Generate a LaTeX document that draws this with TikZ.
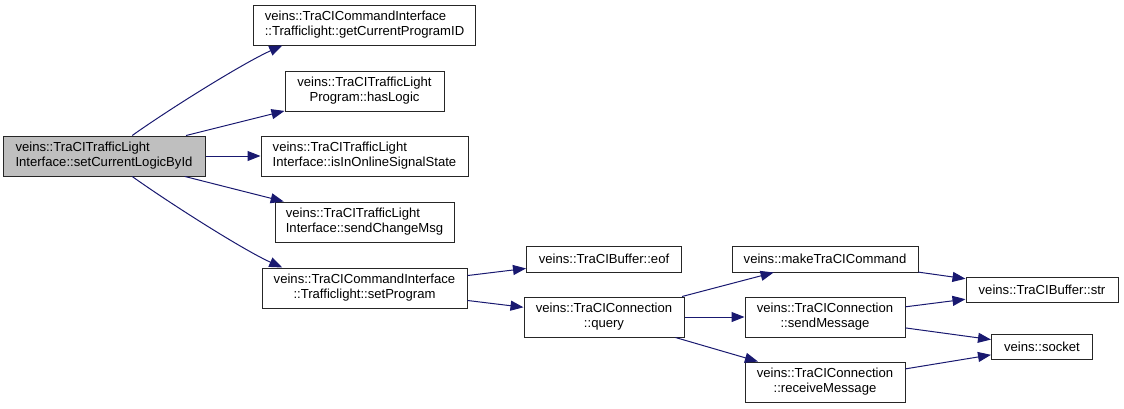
\documentclass[tikz,border=0pt]{standalone}
\usepackage{fontspec}
\setmainfont{Liberation Sans}
\usetikzlibrary{arrows.meta,positioning}
\definecolor{edgeblue}{HTML}{191970}
\definecolor{rootgray}{HTML}{BFBFBF}
\tikzset{
  fn/.style   ={draw=black!85, line width=1pt, fill=white, inner xsep=3pt,
                inner ysep=2pt, minimum height=40pt,
                font=\fontsize{13.1}{15}\selectfont},
  fnl/.style  ={fn, align=left},
  fnc/.style  ={fn, align=center},
  fone/.style ={fn, minimum height=26pt},
  froot/.style={fnl, fill=rootgray},
  call/.style ={-{Triangle[length=13pt,width=10pt]}, edgeblue, line width=1pt},
}

\begin{document}
\begin{tikzpicture}[x=1pt,y=1pt]
\useasboundingbox (0,0) rectangle (1124,-408);

\node[froot, minimum width=202pt] (setlogic) at (104,-156)
  {veins::TraCITrafficLight\\Interface::setCurrentLogicById};

% callees of setCurrentLogicById
\node[fnl, minimum width=207pt, right=55pt of setlogic] (online)
  {veins::TraCITrafficLight\\Interface::isInOnlineSignalState};
\node[fnc, minimum width=159pt, above=24pt of online] (haslogic)
  {veins::TraCITrafficLight\\Program::hasLogic};
\node[fnl, minimum width=222pt, above=25pt of haslogic] (getprog)
  {veins::TraCICommandInterface\\::Trafficlight::getCurrentProgramID};
\node[fnl, minimum width=179pt, below=25pt of online] (sendchange)
  {veins::TraCITrafficLight\\Interface::sendChangeMsg};
\node[fnc, minimum width=205pt, below=25pt of sendchange] (setprog)
  {veins::TraCICommandInterface\\::Trafficlight::setProgram};

% buffer and connection
\node[fnc, minimum width=160pt, right=56pt of setprog, yshift=-29pt] (query)
  {veins::TraCIConnection\\::query};
\node[fone, minimum width=155pt, above=24pt of query] (eof)
  {veins::TraCIBuffer::eof};
\node[fnc, minimum width=160pt, right=60pt of query] (sendmsg)
  {veins::TraCIConnection\\::sendMessage};
\node[fone, minimum width=186pt, above=24pt of sendmsg] (makecmd)
  {veins::makeTraCICommand};
\node[fnc, minimum width=160pt, below=24pt of sendmsg] (recvmsg)
  {veins::TraCIConnection\\::receiveMessage};
\node[fone, minimum width=152pt, minimum height=25pt,
      right=47pt of makecmd, yshift=-30.5pt] (bufstr)
  {veins::TraCIBuffer::str};
\node[fone, minimum width=101pt, minimum height=25pt, below=31pt of bufstr] (socket)
  {veins::socket};

\draw[call] (setlogic.36) .. controls +(35,25) and +(-40,-18) .. (getprog.194);
\draw[call] (setlogic) -- (haslogic);
\draw[call] (setlogic) -- (online);
\draw[call] (setlogic) -- (sendchange);
\draw[call] (setlogic.-36) .. controls +(35,-25) and +(-40,18) .. (setprog.166.5);

\draw[call] (setprog) -- (eof);
\draw[call] (setprog) -- (query);

\draw[call] (query) -- (makecmd);
\draw[call] (query) -- (sendmsg);
\draw[call] (query.-16.5) -- (recvmsg.163.6);

\draw[call] (makecmd) -- (bufstr);
\draw[call] (sendmsg) -- (bufstr);
\draw[call] (sendmsg) -- (socket);
\draw[call] (recvmsg) -- (socket);

\end{tikzpicture}
\end{document}
